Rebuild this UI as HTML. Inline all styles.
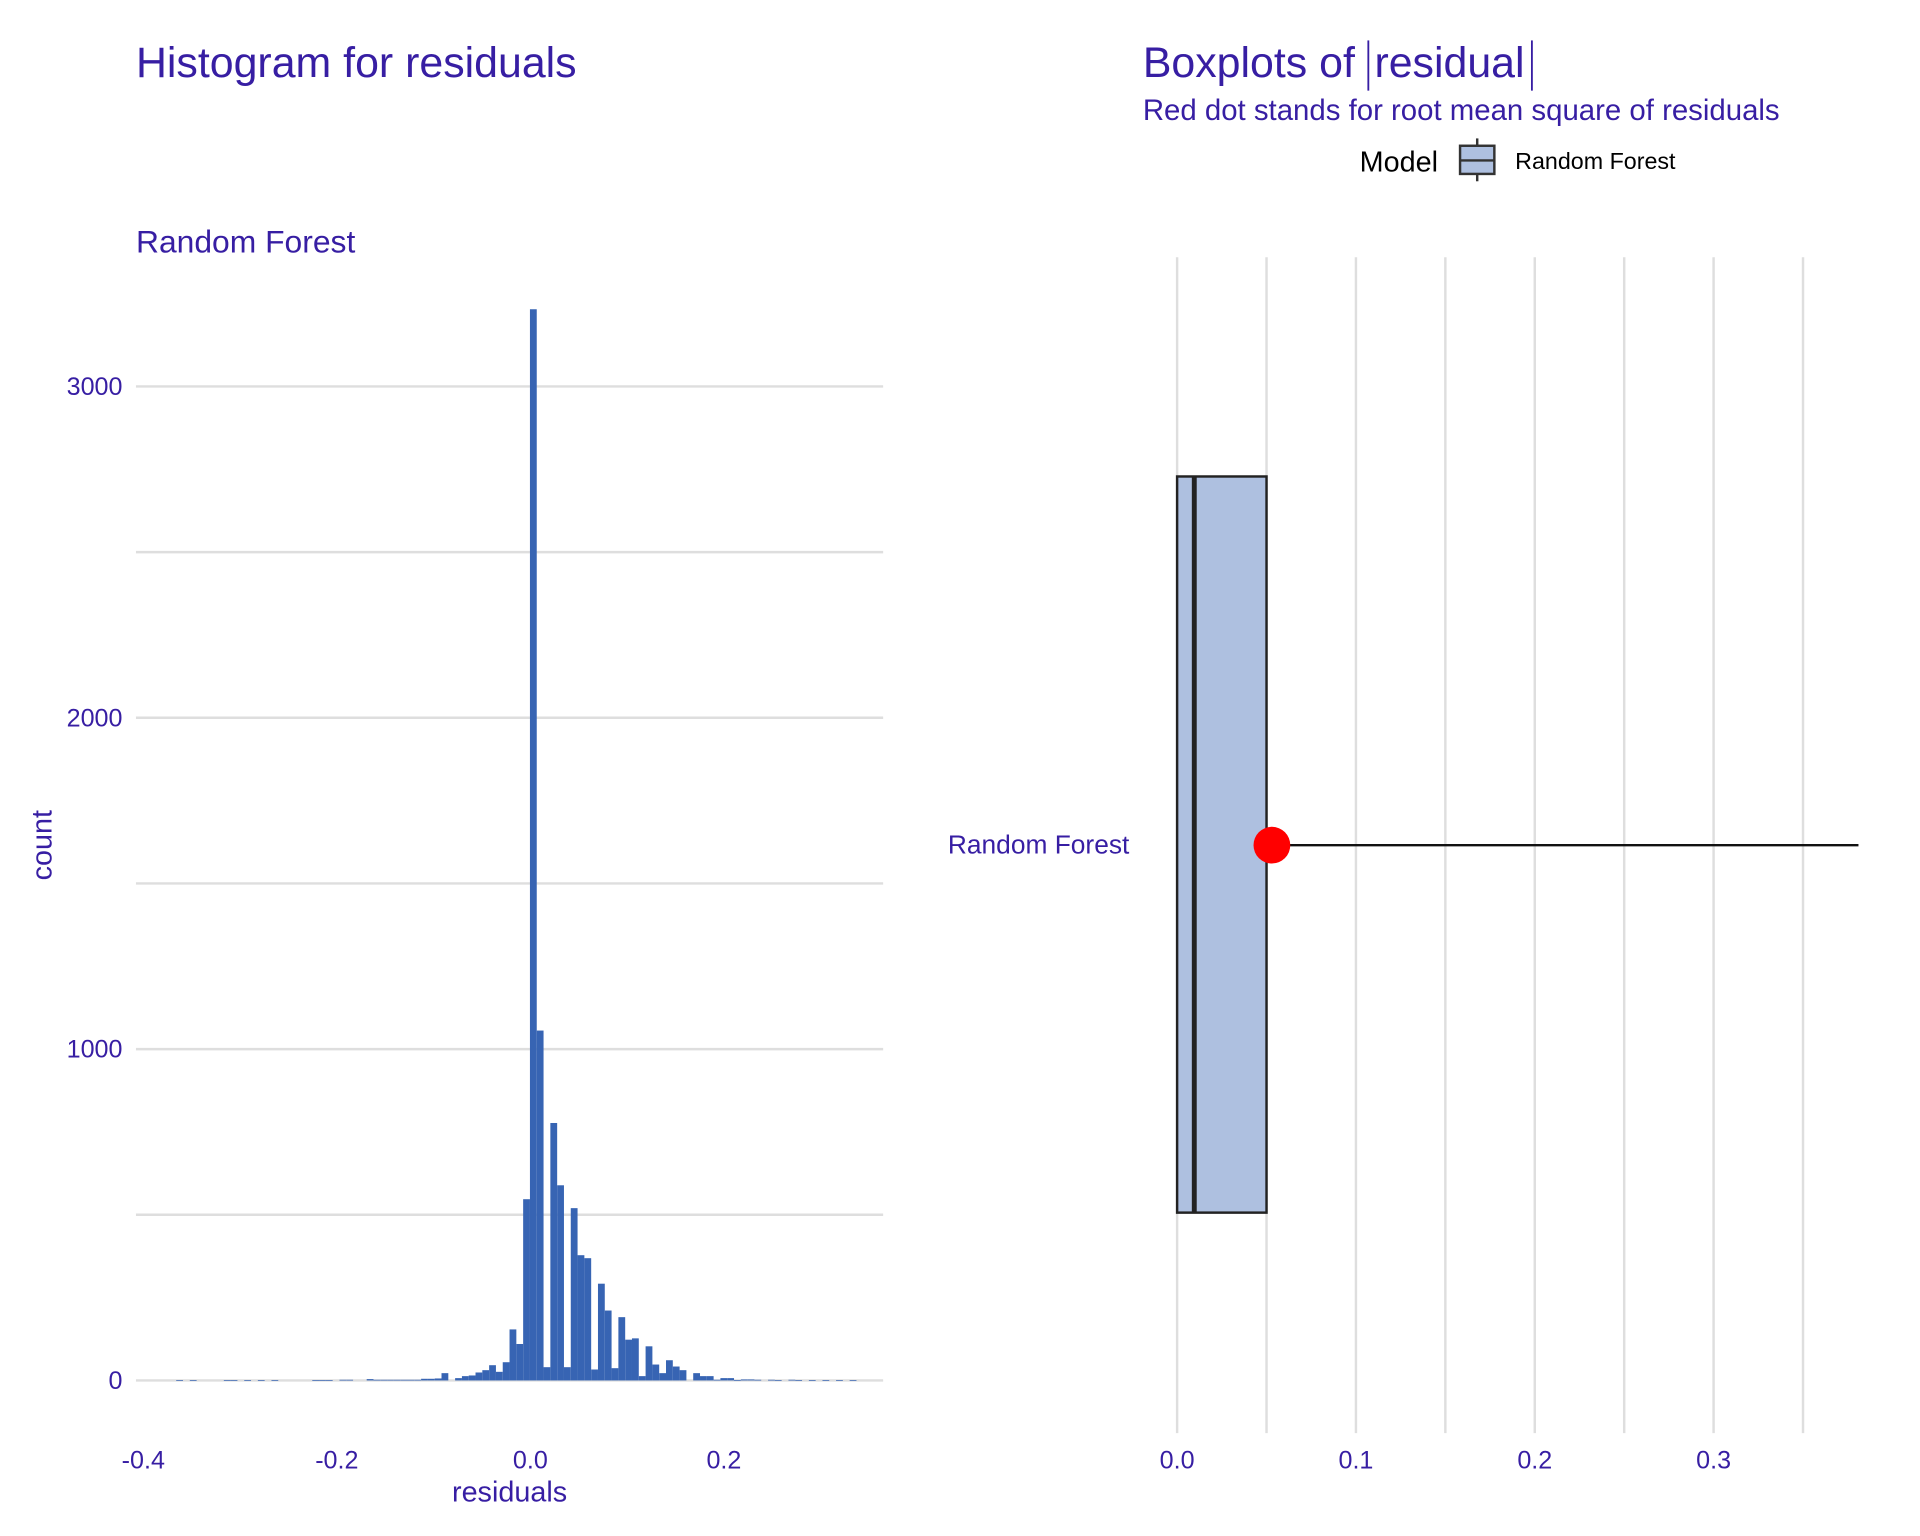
<!DOCTYPE html>
<html><head><meta charset="utf-8"><style>
html,body{margin:0;padding:0;background:#fff;}
svg{display:block;font-family:"Liberation Sans",Arial,sans-serif;}
</style></head><body>
<svg id="chart" width="1920" height="1536" viewBox="0 0 1567.5 1254" xmlns="http://www.w3.org/2000/svg">
<g id="hist"></g>
<g id="box"></g>
</svg>
<script>
// Histogram data
const binStart = -0.3660;
const binWidth = 0.00703;
const histCounts = [1,0,1,0,0,0,0,1,1,0,1,0,1,0,1,0,0,0,0,0,1,1,1,0,2,2,0,0,4,2,2,2,2,2,2,2,5,5,6,
22,0,7,13,15,24,31,46,26,55,154,110,547,3233,1056,40,777,589,40,520,378,369,33,292,211,37,191,123,127,13,103,48,22,61,42,31,0,22,13,13,2,7,7,1,3,3,
2,0,2,1,0,2,1,0,1,0,1,0,1,0,1];
const histXTicks = [-0.4,-0.2,0.0,0.2];
const histXTickLabels = ["-0.4","-0.2","0.0","0.2"];
const histYTicks = [0,1000,2000,3000];
const histYGrid = [0,500,1000,1500,2000,2500,3000];
// Boxplot data
const boxModels = ["Random Forest"];
const boxMin = [0.0];
const boxQ1 = [0.0];
const boxMedian = [0.0096];
const boxQ3 = [0.05];
const boxMax = [0.381];
const boxRMSE = [0.053];
const boxXTicks = [0.0,0.1,0.2,0.3];
const boxXTickLabels = ["0.0","0.1","0.2","0.3"];
const boxXGrid = [0,0.05,0.1,0.15,0.2,0.25,0.3,0.35];

const NS="http://www.w3.org/2000/svg";
const PURPLE="#371ea3";
function mk(parent,tag,attrs,text){const e=document.createElementNS(NS,tag);for(const k in attrs)e.setAttribute(k,attrs[k]);if(text!==undefined)e.textContent=text;parent.appendChild(e);return e;}

const hx=v=>433+v*790;
const hy=c=>1127-c*0.2705;
const H=document.getElementById('hist');
let t;
t=mk(H,'text',{x:111,y:63,'font-size':35,fill:PURPLE},'Histogram for residuals');


t=mk(H,'text',{x:111,y:206,'font-size':26,fill:PURPLE},'Random Forest');


histYGrid.forEach(g=>{
  const l=mk(H,'line',{x1:111,x2:721,y1:hy(g),y2:hy(g),stroke:'#dedede','stroke-width':2});
  
  
});
histYTicks.forEach(g=>{
  const l=mk(H,'text',{x:100,y:hy(g)+7,'font-size':20.5,fill:PURPLE,'text-anchor':'end'},String(g));
  
  
});
histCounts.forEach((c,i)=>{
  if(c<=0)return;
  const x0=hx(binStart+i*binWidth),x1=hx(binStart+(i+1)*binWidth);
  const r=mk(H,'rect',{x:x0,y:hy(c),width:x1-x0,height:Math.max(hy(0)-hy(c),0.6),fill:'#3764b3'});
  
  
});
histXTicks.forEach((v,i)=>{
  const l=mk(H,'text',{x:hx(v),y:1199,'font-size':20.5,fill:PURPLE,'text-anchor':'middle'},histXTickLabels[i]);
  
  
});
t=mk(H,'text',{x:416,y:1226,'font-size':23.5,fill:PURPLE,'text-anchor':'middle'},'residuals');


t=mk(H,'text',{x:42,y:690,'font-size':23.5,fill:PURPLE,'text-anchor':'middle',transform:'rotate(-90 42 690)'},'count');



const bx=v=>961+v*1460;
const B=document.getElementById('box');
t=mk(B,'text',{x:933,y:63,'font-size':35,fill:PURPLE},'Boxplots of');


const w1=t.getComputedTextLength();
const bar1x=933+w1+11;
const t2=mk(B,'text',{x:bar1x+5,y:63,'font-size':35,fill:PURPLE},'residual');


const bar2x=bar1x+5+t2.getComputedTextLength()+6;
[bar1x,bar2x].forEach(x=>{
  const l=mk(B,'line',{x1:x,x2:x,y1:33,y2:74,stroke:PURPLE,'stroke-width':1.5});
  
  
});
t=mk(B,'text',{x:933,y:98,'font-size':24,fill:PURPLE},'Red dot stands for root mean square of residuals');


t=mk(B,'text',{x:1110,y:140,'font-size':23.5,fill:'#000'},'Model');


const lg=mk(B,'g',{});


mk(lg,'line',{x1:1206,x2:1206,y1:113,y2:148,stroke:'#333','stroke-width':2});
mk(lg,'rect',{x:1192,y:119,width:28,height:23,fill:'#aec0e0',stroke:'#333','stroke-width':2});
mk(lg,'line',{x1:1192,x2:1220,y1:131,y2:131,stroke:'#333','stroke-width':2});
t=mk(B,'text',{x:1237,y:138,'font-size':19,fill:'#000'},'Random Forest');


boxXGrid.forEach(g=>{
  const l=mk(B,'line',{x1:bx(g),x2:bx(g),y1:210,y2:1170,stroke:'#dedede','stroke-width':2});
  
  
});
boxXTicks.forEach((v,i)=>{
  const l=mk(B,'text',{x:bx(v),y:1199,'font-size':20.5,fill:PURPLE,'text-anchor':'middle'},boxXTickLabels[i]);
  
  
});
boxModels.forEach((m,i)=>{
  const cy=690, top=389, bot=990;
  const g=mk(B,'g',{});
  
  
  mk(g,'line',{x1:bx(boxQ3[i]),x2:bx(boxMax[i]),y1:cy,y2:cy,stroke:'#111','stroke-width':2});
  mk(g,'line',{x1:bx(boxMin[i]),x2:bx(boxQ1[i]),y1:cy,y2:cy,stroke:'#111','stroke-width':2});
  mk(g,'rect',{x:bx(boxQ1[i]),y:top,width:bx(boxQ3[i])-bx(boxQ1[i]),height:bot-top,fill:'#aec0e0',stroke:'#222','stroke-width':2});
  mk(g,'line',{x1:bx(boxMedian[i]),x2:bx(boxMedian[i]),y1:top,y2:bot,stroke:'#222','stroke-width':4});
  const d=mk(B,'circle',{cx:bx(boxRMSE[i]),cy:cy,r:15,fill:'#ff0000'});
  
  
  const l=mk(B,'text',{x:922,y:697,'font-size':21.5,fill:PURPLE,'text-anchor':'end'},m);
  
  
});
</script>
</body></html>
